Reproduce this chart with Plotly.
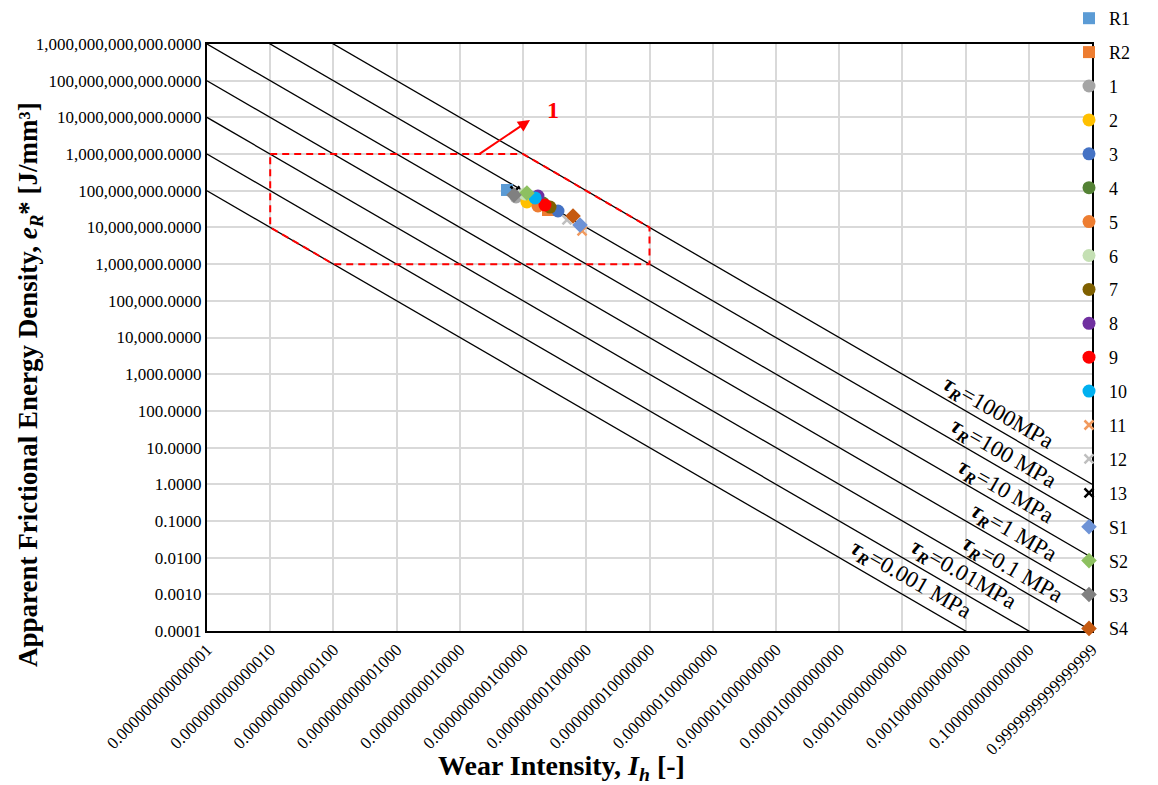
import numpy as np
import plotly.graph_objects as go

# ---------------- data ----------------
series_names = ["R1", "R2", "1", "2", "3", "4", "5", "6", "7", "8", "9", "10",
                "11", "12", "13", "S1", "S2", "S3", "S4"]
wear_intensity = [5.57e-10, 2.48e-9, 7.74e-10, 1.15e-9, 3.57e-9, 2.07e-9, 1.72e-9,
                  1.07e-9, 2.67e-9, 1.72e-9, 2.22e-9, 1.55e-9,
                  8.57e-9, 4.95e-9, 7.46e-10, 7.96e-9, 1.15e-9, 7.19e-10, 6.17e-9]
energy_density = [1.05e8, 2.99e7, 6.76e7, 4.94e7, 2.81e7, 4.63e7, 3.85e7,
                  8.17e7, 3.60e7, 7.20e7, 4.09e7, 6.36e7,
                  8.0e6, 1.6e7, 9.86e7, 1.17e7, 8.69e7, 7.66e7, 2.05e7]
colors = ["#5B9BD5", "#ED7D31", "#A5A5A5", "#FFC000", "#4472C4", "#548235", "#ED7D31",
          "#C5E0B4", "#7F6000", "#7030A0", "#FF0000", "#00B0F0",
          "#F19A5E", "#BFBFBF", "#000000", "#6E93D6", "#8DC060", "#808080", "#C55A11"]
symbols = ["square", "square"] + ["circle"] * 10 + ["x-thin"] * 3 + ["diamond"] * 4

tau_values = [1000, 100, 10, 1, 0.1, 0.01, 0.001]  # MPa
tau_labels = ["=1000MPa", "=100 MPa", "=10 MPa", "=1 MPa", "=0.1 MPa", "=0.01MPa", "=0.001 MPa"]
x_line = [1e-14, 1.0]

x_tickvals = [10.0 ** k for k in range(-14, 1)]
x_ticktext = ["0.000000000000001", "0.000000000000010", "0.000000000000100",
              "0.000000000001000", "0.000000000010000", "0.000000000100000",
              "0.000000001000000", "0.000000010000000", "0.000000100000000",
              "0.000001000000000", "0.000010000000000", "0.000100000000000",
              "0.001000000000000", "0.010000000000000", "0.100000000000000",
              "0.9999999999999999"]
x_ticktext = x_ticktext[:13] + x_ticktext[14:]
y_tickvals = [10.0 ** k for k in range(-4, 13)]
y_ticktext = ["0.0001", "0.0010", "0.0100", "0.1000", "1.0000", "10.0000", "100.0000",
              "1,000.0000", "10,000.0000", "100,000.0000", "1,000,000.0000",
              "10,000,000.0000", "100,000,000.0000", "1,000,000,000.0000",
              "10,000,000,000.0000", "100,000,000,000.0000", "1,000,000,000,000.0000"]

region_x = [1e-13, 1e-9, 1e-7, 1e-7, 1e-12, 1e-13, 1e-13]
region_y = [1e9, 1e9, 1e7, 1e6, 1e6, 1e7, 1e9]

FONT = "Liberation Serif"

fig = go.Figure()

# tau lines
for t in tau_values:
    xs = np.array(x_line)
    ys = t * 1e-3 / xs
    fig.add_trace(go.Scatter(x=xs, y=ys, mode="lines", line=dict(color="black", width=1.3),
                             showlegend=False, hoverinfo="skip"))

# dashed region
fig.add_trace(go.Scatter(x=region_x, y=region_y, mode="lines",
                         line=dict(color="#FF0000", width=2, dash="7px,5px"),
                         showlegend=False, hoverinfo="skip"))

# data series
for i, name in enumerate(series_names):
    sym = symbols[i]
    if sym == "x-thin":
        marker = dict(symbol=sym, size=9, color=colors[i], line=dict(color=colors[i], width=2.5))
    elif sym == "circle":
        marker = dict(symbol=sym, size=13, color=colors[i], line=dict(width=0))
    else:
        marker = dict(symbol=sym, size=12, color=colors[i], line=dict(width=0))
    fig.add_trace(go.Scatter(x=[wear_intensity[i]], y=[energy_density[i]], mode="markers",
                             name=name, marker=marker, legendgroup=name))

annotations = []
# tau labels positions (log10 coords)
label_pos = [(-1.502, 1.943), (-1.407, 0.825), (-1.376, -0.210), (-1.249, -1.328),
             (-1.265, -2.336), (-2.040, -2.473), (-2.878, -2.609)]
for (lx, ly), txt in zip(label_pos, tau_labels):
    annotations.append(dict(x=lx, y=ly, xref="x", yref="y", showarrow=False, textangle=30,
                            text="<b><i>τ</i></b><sub><b><i>R</i></b></sub>" + txt,
                            font=dict(family=FONT, size=23, color="black")))

# arrow and label "1"
annotations.append(dict(x=-8.89, y=9.93, xref="x", yref="y", ax=-52, ay=35,
                        showarrow=True, arrowhead=2, arrowsize=1.2, arrowwidth=2,
                        arrowcolor="#FF0000", text=""))
annotations.append(dict(x=-8.526, y=10.2, xref="x", yref="y", showarrow=False,
                        text="<b>1</b>", font=dict(family=FONT, size=24, color="#FF0000")))

# axis titles (page-pixel positions converted below)
annotations.append(dict(x=561, y=767, showarrow=False, xanchor="center", yanchor="middle",
                        text="<b>Wear Intensity, <i>I<sub>h</sub></i> [-]</b>",
                        font=dict(family=FONT, size=28, color="black")))
annotations.append(dict(x=30, y=385, showarrow=False, textangle=-90,
                        xanchor="center", yanchor="middle",
                        text="<b>Apparent Frictional Energy Density, <i>e<sub>R</sub></i>* [J/mm³]</b>",
                        font=dict(family=FONT, size=27, color="black")))

OFF = 8  # page body margin
W, H = 1150, 777
L, T = 207 - OFF, 44 - OFF
R = OFF + W - 1092
B = OFF + H - 631
pw, ph = W - L - R, H - T - B
for a in annotations[-2:]:
    a["xref"] = "paper"
    a["yref"] = "paper"
    a["x"] = (a["x"] - 207) / pw
    a["y"] = (631 - a["y"]) / ph

fig.update_layout(
    width=W, height=H,
    margin=dict(l=L, r=R, t=T, b=B, autoexpand=False),
    paper_bgcolor="white", plot_bgcolor="white",
    font=dict(family=FONT, size=17, color="black"),
    showlegend=True,
    legend=dict(x=(1069 - 207) / pw, xanchor="left", y=1 + (44 - 0) / ph, yanchor="top",
                font=dict(family=FONT, size=18, color="black"),
                tracegroupgap=7.5, bgcolor="rgba(0,0,0,0)", itemwidth=30,
                maxheight=780),
    annotations=annotations,
)
fig.update_xaxes(type="log", range=[-14, 0], tickvals=x_tickvals, ticktext=x_ticktext,
                 tickangle=-45, tickfont=dict(family=FONT, size=17),
                 showgrid=True, gridcolor="#D9D9D9", gridwidth=2,
                 showline=True, linecolor="black", linewidth=2, mirror=True, zeroline=False,
                 ticks="")
fig.update_yaxes(type="log", range=[-4, 12], tickvals=y_tickvals, ticktext=y_ticktext,
                 tickfont=dict(family=FONT, size=17),
                 showgrid=True, gridcolor="#D9D9D9", gridwidth=2,
                 showline=True, linecolor="black", linewidth=2, mirror=True, zeroline=False,
                 ticks="")

fig.write_html("out.html")
